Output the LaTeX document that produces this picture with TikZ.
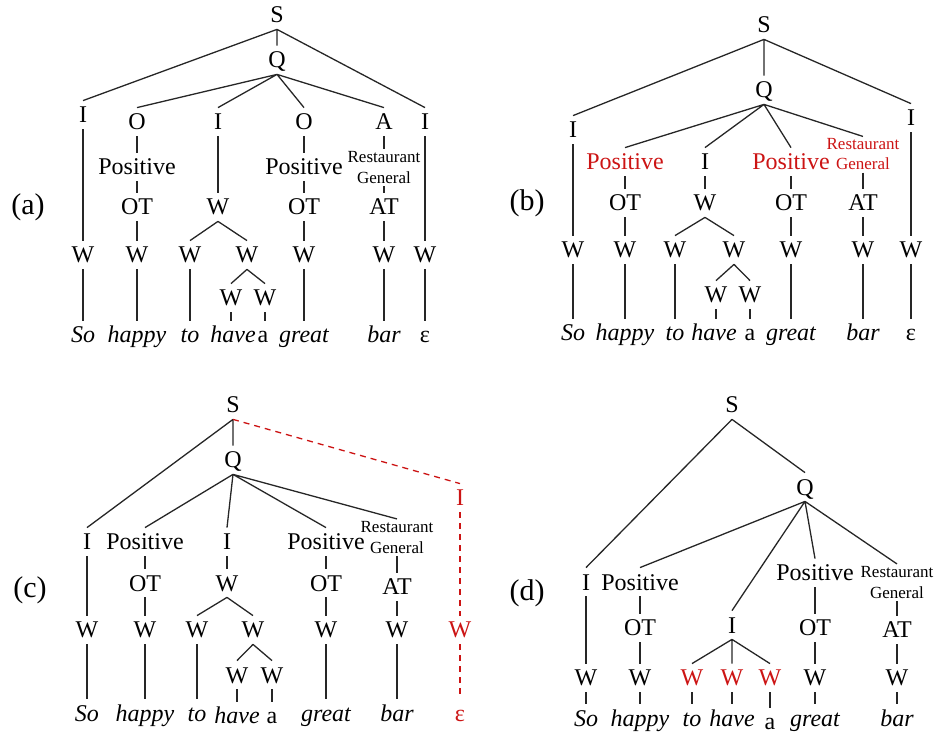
\documentclass[tikz,border=0pt]{standalone}
\usepackage{fontspec}
\setmainfont{Liberation Serif}
\definecolor{treered}{RGB}{204,20,20}
\tikzset{
  lab/.style={font=\fontsize{12}{14}\selectfont, inner sep=3pt, text height=8pt, text depth=0pt},
  wd/.style={lab, font=\fontsize{12}{14}\selectfont\itshape},
  rg/.style={font=\fontsize{8.5}{10.5}\selectfont, align=center, inner sep=1pt},
  hot/.style={text=treered},
  tag/.style={font=\fontsize{15}{18}\selectfont},
  br/.style={line width=0.65pt, black!85},
  added/.style={line width=0.65pt, treered, dash pattern=on 3pt off 2.5pt}
}
\begin{document}
\begin{tikzpicture}[x=0.5pt, y=-0.5pt]
	\useasboundingbox (0,0) rectangle (934,733);

	% (a) full tree
	\node[tag] (aTag) at (28,207) {(a)};
	\node[lab] (aS) at (277,15) {S};
	\node[lab] (aQ) at (277,60) {Q};
	\node[lab] (aI1) at (83,115) {I};
	\node[lab] (aO1) at (137,122) {O};
	\node[lab] (aI2) at (218,122) {I};
	\node[lab] (aO2) at (304,122) {O};
	\node[lab] (aA) at (384,122) {A};
	\node[lab] (aI3) at (425,122) {I};
	\node[lab] (aP1) at (137,167) {Positive};
	\node[lab] (aP2) at (304,167) {Positive};
	\node[rg] (aRG) at (384,167.5) {Restaurant\\General};
	\node[lab] (aOT1) at (137,207) {OT};
	\node[lab] (aW0) at (218,207) {W};
	\node[lab] (aOT2) at (304,207) {OT};
	\node[lab] (aAT) at (384,207) {AT};
	\node[lab] (aW1) at (83,255) {W};
	\node[lab] (aW2) at (137,255) {W};
	\node[lab] (aW3) at (190,255) {W};
	\node[lab] (aW4) at (247,255) {W};
	\node[lab] (aW5) at (304,255) {W};
	\node[lab] (aW6) at (384,255) {W};
	\node[lab] (aW7) at (425,255) {W};
	\node[lab] (aW8) at (231,298) {W};
	\node[lab] (aW9) at (265,298) {W};
	\node[wd] (aSo) at (83,335) {So};
	\node[wd] (aHappy) at (137,335) {happy};
	\node[wd] (aTo) at (190,335) {to};
	\node[wd] (aHave) at (233,335) {have};
	\node[lab] (aA1) at (263,335) {a};
	\node[wd] (aGreat) at (304,335) {great};
	\node[wd] (aBar) at (384,335) {bar};
	\node[lab] (aEps) at (425,335) {ε};

	\draw[br] (aS.south) -- (aQ.north) (aS.south) -- (aI1.north) (aS.south) -- (aI3.north);
	\draw[br] (aQ.south) -- (aO1.north) (aQ.south) -- (aI2.north) (aQ.south) -- (aO2.north) (aQ.south) -- (aA.north);
	\draw[br] (aI1) -- (aW1) -- (aSo);
	\draw[br] (aO1) -- (aP1) -- (aOT1) -- (aW2) -- (aHappy);
	\draw[br] (aI2) -- (aW0);
	\draw[br] (aW0.south) -- (aW3.north) (aW0.south) -- (aW4.north);
	\draw[br] (aW3) -- (aTo);
	\draw[br] (aW4.south) -- (aW8.north) (aW4.south) -- (aW9.north);
	\draw[br] (aW8.south) -- (aW8.south |- aHave.north) (aW9.south) -- (aW9.south |- aA1.north);
	\draw[br] (aO2) -- (aP2) -- (aOT2) -- (aW5) -- (aGreat);
	\draw[br] (aA) -- (aRG) -- (aAT) -- (aW6) -- (aBar);
	\draw[br] (aI3) -- (aW7) -- (aEps);

	% (b) sentiment labels pulled up
	\node[tag] (bTag) at (527,203) {(b)};
	\node[lab] (bS) at (764,25) {S};
	\node[lab] (bQ) at (764,90) {Q};
	\node[lab] (bI1) at (573,130) {I};
	\node[lab] (bI3) at (911,118) {I};
	\node[lab, hot] (bP1) at (625,162) {Positive};
	\node[lab] (bI2) at (705,162) {I};
	\node[lab, hot] (bP2) at (791,162) {Positive};
	\node[rg, hot, font=\fontsize{8.5}{10}\selectfont] (bRG) at (863,154.5) {Restaurant\\General};
	\node[lab] (bOT1) at (625,203) {OT};
	\node[lab] (bW0) at (705,203) {W};
	\node[lab] (bOT2) at (791,203) {OT};
	\node[lab] (bAT) at (863,203) {AT};
	\node[lab] (bW1) at (573,250) {W};
	\node[lab] (bW2) at (625,250) {W};
	\node[lab] (bW3) at (675,250) {W};
	\node[lab] (bW4) at (734,250) {W};
	\node[lab] (bW5) at (791,250) {W};
	\node[lab] (bW6) at (863,250) {W};
	\node[lab] (bW7) at (911,250) {W};
	\node[lab] (bW8) at (716,295) {W};
	\node[lab] (bW9) at (750,295) {W};
	\node[wd] (bSo) at (573,333) {So};
	\node[wd] (bHappy) at (625,333) {happy};
	\node[wd] (bTo) at (675,333) {to};
	\node[wd] (bHave) at (714,333) {have};
	\node[lab] (bA1) at (750,333) {a};
	\node[wd] (bGreat) at (791,333) {great};
	\node[wd] (bBar) at (863,333) {bar};
	\node[lab] (bEps) at (911,333) {ε};

	\draw[br] (bS.south) -- (bQ.north) (bS.south) -- (bI1.north) (bS.south) -- (bI3.north);
	\draw[br] (bQ.south) -- (bP1.north) (bQ.south) -- (bI2.north) (bQ.south) -- (bP2.north) (bQ.south) -- (bRG.north);
	\draw[br] (bI1) -- (bW1) -- (bSo);
	\draw[br] (bP1) -- (bOT1) -- (bW2) -- (bHappy);
	\draw[br] (bI2) -- (bW0);
	\draw[br] (bW0.south) -- (bW3.north) (bW0.south) -- (bW4.north);
	\draw[br] (bW3) -- (bTo);
	\draw[br] (bW4.south) -- (bW8.north) (bW4.south) -- (bW9.north);
	\draw[br] (bW8.south) -- (bW8.south |- bHave.north) (bW9.south) -- (bW9.south |- bA1.north);
	\draw[br] (bP2) -- (bOT2) -- (bW5) -- (bGreat);
	\draw[br] (bRG) -- (bAT) -- (bW6) -- (bBar);
	\draw[br] (bI3) -- (bW7) -- (bEps);

	% (c) empty branch cut off
	\node[tag] (cTag) at (30,590) {(c)};
	\node[lab] (cS) at (233,405) {S};
	\node[lab] (cQ) at (233,460) {Q};
	\node[lab, hot] (cIr) at (460,498) {I};
	\node[lab] (cI1) at (87,542) {I};
	\node[lab] (cP1) at (145,542) {Positive};
	\node[lab] (cI2) at (227,542) {I};
	\node[lab] (cP2) at (326,542) {Positive};
	\node[rg] (cRG) at (397,537.5) {Restaurant\\General};
	\node[lab] (cOT1) at (145,583) {OT};
	\node[lab] (cW0) at (227,583) {W};
	\node[lab] (cOT2) at (326,583) {OT};
	\node[lab] (cAT) at (397,587) {AT};
	\node[lab] (cW1) at (87,630) {W};
	\node[lab] (cW2) at (145,630) {W};
	\node[lab] (cW3) at (197,630) {W};
	\node[lab] (cW4) at (253,630) {W};
	\node[lab] (cW5) at (326,630) {W};
	\node[lab] (cW6) at (397,630) {W};
	\node[lab, hot] (cWr) at (460,630) {W};
	\node[lab] (cW8) at (237,675) {W};
	\node[lab] (cW9) at (272,675) {W};
	\node[wd] (cSo) at (87,713) {So};
	\node[wd] (cHappy) at (145,713) {happy};
	\node[wd] (cTo) at (197,713) {to};
	\node[wd] (cHave) at (237,716) {have};
	\node[lab] (cA1) at (272,716) {a};
	\node[wd] (cGreat) at (326,713) {great};
	\node[wd] (cBar) at (397,713) {bar};
	\node[lab, hot] (cEps) at (460,713) {ε};

	\draw[br] (cS.south) -- (cQ.north) (cS.south) -- (cI1.north);
	\draw[added] (cS.south) -- (cIr.north);
	\draw[br] (cQ.south) -- (cP1.north) (cQ.south) -- (cI2.north) (cQ.south) -- (cP2.north) (cQ.south) -- (cRG.north);
	\draw[br] (cI1) -- (cW1) -- (cSo);
	\draw[br] (cP1) -- (cOT1) -- (cW2) -- (cHappy);
	\draw[br] (cI2) -- (cW0);
	\draw[br] (cW0.south) -- (cW3.north) (cW0.south) -- (cW4.north);
	\draw[br] (cW3) -- (cTo);
	\draw[br] (cW4.south) -- (cW8.north) (cW4.south) -- (cW9.north);
	\draw[br] (cW8) -- (cHave) (cW9) -- (cA1);
	\draw[br] (cP2) -- (cOT2) -- (cW5) -- (cGreat);
	\draw[br] (cRG) -- (cAT) -- (cW6) -- (cBar);
	\draw[added] (cIr) -- (cWr) -- (cEps);

	% (d) phrase flattened
	\node[tag] (dTag) at (527,593) {(d)};
	\node[lab] (dS) at (732,405) {S};
	\node[lab] (dQ) at (805,487) {Q};
	\node[lab] (dI1) at (586,582) {I};
	\node[lab] (dP1) at (640,582) {Positive};
	\node[lab] (dP2) at (815,573) {Positive};
	\node[rg] (dRG) at (897,582.5) {Restaurant\\General};
	\node[lab] (dI2) at (732,625) {I};
	\node[lab] (dOT1) at (640,628) {OT};
	\node[lab] (dOT2) at (815,628) {OT};
	\node[lab] (dAT) at (897,630) {AT};
	\node[lab] (dW1) at (586,678) {W};
	\node[lab] (dW2) at (640,678) {W};
	\node[lab, hot] (dW3) at (692,678) {W};
	\node[lab, hot] (dW4) at (732,678) {W};
	\node[lab, hot] (dW5) at (770,678) {W};
	\node[lab] (dW6) at (815,678) {W};
	\node[lab] (dW7) at (897,678) {W};
	\node[wd] (dSo) at (586,718) {So};
	\node[wd] (dHappy) at (640,718) {happy};
	\node[wd] (dTo) at (692,718) {to};
	\node[wd] (dHave) at (732,718) {have};
	\node[lab] (dA1) at (770,722) {a};
	\node[wd] (dGreat) at (815,718) {great};
	\node[wd] (dBar) at (897,718) {bar};

	\draw[br] (dS.south) -- (dQ.north) (dS.south) -- (dI1.north);
	\draw[br] (dQ.south) -- (dP1.north) (dQ.south) -- (dI2.north) (dQ.south) -- (dP2.north) (dQ.south) -- (dRG.north);
	\draw[br] (dI1) -- (dW1) -- (dSo);
	\draw[br] (dP1) -- (dOT1) -- (dW2) -- (dHappy);
	\draw[br] (dI2.south) -- (dW3.north) (dI2.south) -- (dW4.north) (dI2.south) -- (dW5.north);
	\draw[br] (dW3) -- (dTo) (dW4) -- (dHave) (dW5) -- (dA1);
	\draw[br] (dP2) -- (dOT2) -- (dW6) -- (dGreat);
	\draw[br] (dRG) -- (dAT) -- (dW7) -- (dBar);
\end{tikzpicture}
\end{document}
